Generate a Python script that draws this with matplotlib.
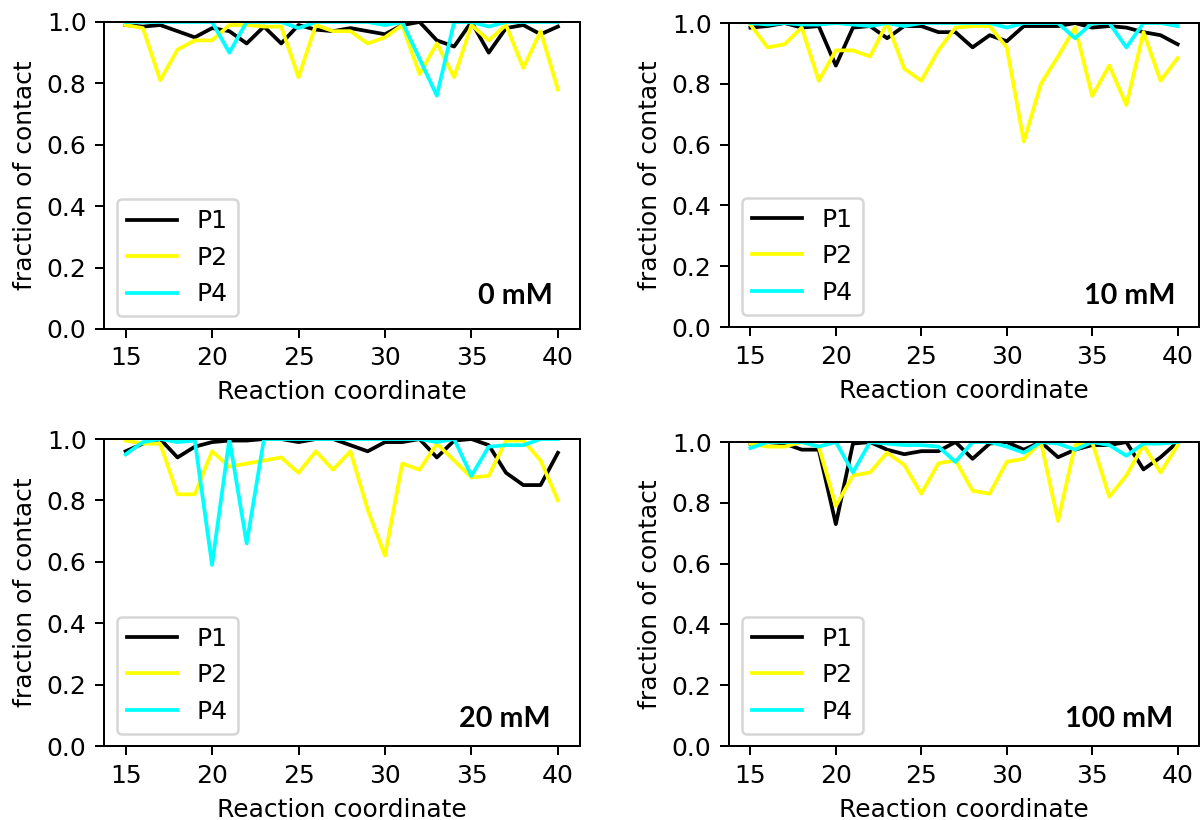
import matplotlib
matplotlib.use("Agg")
import matplotlib.pyplot as plt

coord = list(range(15, 41))

# 0 mM
p1_0 = [0.99, 0.985, 0.99, 0.97, 0.95, 0.98, 0.97, 0.93, 0.985, 0.93, 0.99, 0.975, 0.97,
        0.98, 0.97, 0.96, 0.99, 1.0, 0.94, 0.92, 1.0, 0.90, 0.98, 0.99, 0.96, 0.985]
p2_0 = [0.99, 0.98, 0.81, 0.91, 0.94, 0.94, 0.99, 0.99, 0.985, 0.985, 0.82, 0.99, 0.97,
        0.97, 0.93, 0.95, 0.99, 0.83, 0.93, 0.82, 0.99, 0.94, 0.99, 0.85, 0.97, 0.78]
p4_0 = [1.0, 1.0, 1.0, 1.0, 1.0, 1.0, 0.90, 1.0, 1.0, 1.0, 0.98, 1.0, 1.0,
        1.0, 1.0, 0.99, 1.0, 0.88, 0.76, 1.0, 1.0, 0.985, 1.0, 1.0, 1.0, 1.0]

# 10 mM
p1_10 = [0.985, 0.99, 1.0, 0.985, 0.99, 0.86, 0.985, 0.99, 0.95, 0.99, 0.99, 0.97, 0.97,
         0.92, 0.96, 0.94, 0.99, 0.99, 0.99, 1.0, 0.985, 0.99, 0.985, 0.97, 0.96, 0.93]
p2_10 = [0.995, 0.92, 0.93, 0.985, 0.81, 0.91, 0.91, 0.89, 1.0, 0.85, 0.81, 0.91, 0.985,
         0.99, 0.99, 0.92, 0.61, 0.80, 0.89, 0.985, 0.76, 0.86, 0.73, 0.97, 0.81, 0.885]
p4_10 = [1.0, 0.995, 1.0, 0.995, 0.995, 1.0, 0.995, 0.99, 1.0, 0.99, 1.0, 1.0, 1.0,
         1.0, 1.0, 0.985, 1.0, 1.0, 1.0, 0.95, 1.0, 1.0, 0.92, 1.0, 1.0, 0.99]

# 20 mM
p1_20 = [0.96, 0.985, 1.0, 0.94, 0.975, 0.99, 0.995, 0.995, 1.0, 1.0, 0.99, 1.0, 1.0,
         0.98, 0.96, 0.99, 0.99, 1.0, 0.94, 0.995, 1.0, 0.98, 0.89, 0.85, 0.85, 0.955]
p2_20 = [0.995, 0.985, 0.985, 0.82, 0.82, 0.96, 0.91, 0.92, 0.93, 0.94, 0.89, 0.96, 0.90,
         0.96, 0.77, 0.62, 0.92, 0.90, 0.985, 0.93, 0.875, 0.88, 0.995, 0.995, 0.93, 0.80]
p4_20 = [0.95, 0.99, 1.0, 0.99, 0.995, 0.59, 1.0, 0.66, 1.0, 1.0, 1.0, 1.0, 1.0,
         1.0, 1.0, 1.0, 1.0, 1.0, 0.99, 1.0, 0.88, 0.975, 0.98, 0.98, 1.0, 1.0]

# 100 mM
p1_100 = [0.995, 1.0, 0.995, 0.975, 0.975, 0.73, 0.995, 1.0, 0.975, 0.96, 0.97, 0.97, 1.0,
          0.945, 0.995, 1.0, 0.975, 1.0, 0.95, 0.975, 0.99, 0.99, 1.0, 0.91, 0.95, 1.0]
p2_100 = [0.995, 0.985, 0.985, 1.0, 0.985, 0.79, 0.89, 0.90, 0.965, 0.925, 0.83, 0.93, 0.94,
          0.84, 0.83, 0.935, 0.945, 1.0, 0.74, 0.99, 1.0, 0.82, 0.89, 0.99, 0.90, 0.99]
p4_100 = [0.98, 1.0, 1.0, 1.0, 0.985, 1.0, 0.90, 1.0, 0.995, 0.99, 0.99, 0.985, 0.935,
          1.0, 1.0, 0.985, 0.965, 1.0, 0.995, 0.975, 1.0, 0.99, 0.955, 0.995, 0.995, 1.0]

concs = ["0 mM", "10 mM", "20 mM", "100 mM"]
series = [(p1_0, p2_0, p4_0), (p1_10, p2_10, p4_10),
          (p1_20, p2_20, p4_20), (p1_100, p2_100, p4_100)]

# axes boxes in figure fraction (left, bottom, width, height)
boxes = [(0.0866, 0.5988, 0.3959, 0.3744), (0.6070, 0.6012, 0.3913, 0.3707),
         (0.0866, 0.0902, 0.3959, 0.3744), (0.6070, 0.0902, 0.3913, 0.3707)]
# where the concentration label sits (axes fraction, right edge / baseline)
label_pos = [(0.944, 0.081), (0.949, 0.077), (0.940, 0.062), (0.945, 0.064)]

fig = plt.figure(figsize=(6.6725, 4.5556), dpi=180)

for box, pos, conc, (p1, p2, p4) in zip(boxes, label_pos, concs, series):
    ax = fig.add_axes(box)
    ax.plot(coord, p1, color="black", label="P1")
    ax.plot(coord, p2, color="yellow", label="P2")
    ax.plot(coord, p4, color="cyan", label="P4")
    ax.set_ylim(0, 1.0)
    ax.set_yticks([0.0, 0.2, 0.4, 0.6, 0.8, 1.0])
    ax.set_xticks([15, 20, 25, 30, 35, 40])
    ax.set_xlabel("Reaction coordinate")
    ax.set_ylabel("fraction of contact")
    ax.legend(loc="lower left")
    ax.text(pos[0], pos[1], conc, transform=ax.transAxes, ha="right", va="baseline",
            fontfamily="Lato", fontsize=11.5, fontweight="bold")

plt.savefig("out.png", dpi=180)
plt.close()
